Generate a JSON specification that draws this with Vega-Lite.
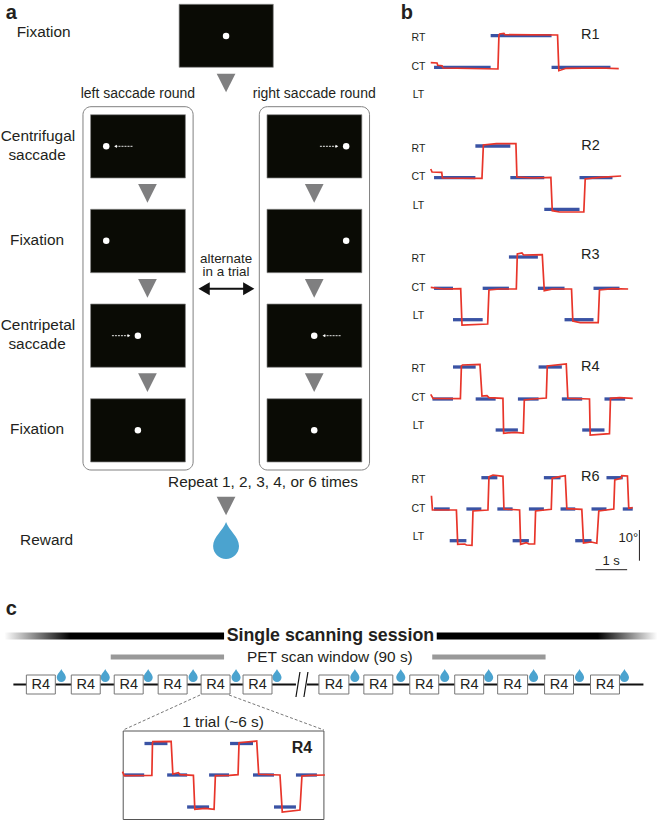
{"$schema":"https://vega.github.io/schema/vega-lite/v6.json","width":658,"height":820,"padding":0,"autosize":{"type":"fit","contains":"padding"},"background":"white","config":{"view":{"stroke":null},"text":{"font":"Liberation Sans","color":"#231f20","baseline":"middle","align":"center"}},
"encoding":{"x":{"field":"x","type":"quantitative","scale":{"domain":[0.6,658.6],"nice":false,"zero":false},"axis":null},"y":{"field":"y","type":"quantitative","scale":{"domain":[820,0],"nice":false,"zero":false},"axis":null}},
"layer":[
{"data":{"values":[{"x":82.7,"x2":193,"y":106.7,"y2":470},{"x":259.3,"x2":369.7,"y":106.7,"y2":470}]},"mark":{"type":"rect","fill":"white","stroke":"#808080","strokeWidth":1,"cornerRadius":8},"encoding":{"x2":{"field":"x2"},"y2":{"field":"y2"}}},
{"data":{"values":[{"x":179,"x2":273.3,"y":4.3,"y2":67.3},{"x":90.3,"x2":185.3,"y":114.7,"y2":178},{"x":90.3,"x2":185.3,"y":209.3,"y2":272.7},{"x":90.3,"x2":185.3,"y":304,"y2":367.3},{"x":90.3,"x2":185.3,"y":398.7,"y2":462},{"x":267,"x2":362,"y":114.7,"y2":178},{"x":267,"x2":362,"y":209.3,"y2":272.7},{"x":267,"x2":362,"y":304,"y2":367.3},{"x":267,"x2":362,"y":398.7,"y2":462}]},"mark":{"type":"rect","fill":"#0a0b05","stroke":"#8a8a8a","strokeWidth":0.7},"encoding":{"x2":{"field":"x2"},"y2":{"field":"y2"}}},
{"data":{"values":[{"x":226,"y":36},{"x":106,"y":146.3},{"x":106,"y":240.7},{"x":137.7,"y":335.7},{"x":137.7,"y":430.3},{"x":346.3,"y":146.3},{"x":346.3,"y":240.7},{"x":314.3,"y":335.7},{"x":314.3,"y":430.3}]},"mark":{"type":"point","shape":"circle","filled":true,"fill":"white","opacity":1,"strokeWidth":0,"size":42}},
{"data":{"values":[{"x":132.3,"x2":116,"y":146.3},{"x":320,"x2":336.3,"y":146.3},{"x":111.7,"x2":128,"y":335.7},{"x":340.7,"x2":324.7,"y":335.7}]},"mark":{"type":"rule","stroke":"white","strokeWidth":0.9,"strokeDash":[2,1]},"encoding":{"x2":{"field":"x2"}}},
{"data":{"values":[{"x":115.3,"y":146.3},{"x":324,"y":335.7}]},"mark":{"type":"point","shape":"triangle-left","filled":true,"fill":"white","opacity":1,"strokeWidth":0,"size":10}},
{"data":{"values":[{"x":337,"y":146.3},{"x":128.7,"y":335.7}]},"mark":{"type":"point","shape":"triangle-right","filled":true,"fill":"white","opacity":1,"strokeWidth":0,"size":10}},
{"data":{"values":[{"x":226,"y":83},{"x":147.3,"y":193.3},{"x":147.3,"y":288.3},{"x":147.3,"y":382.7},{"x":314.3,"y":193.3},{"x":314.3,"y":288.3},{"x":314.3,"y":382.7},{"x":226,"y":506}]},"mark":{"type":"point","shape":"M-1,-1 L1,-1 L0,1 Z","filled":true,"fill":"#7f7f80","opacity":1,"strokeWidth":0,"size":350}},
{"data":{"values":[{"x":204,"x2":249,"y":288.7}]},"mark":{"type":"rule","stroke":"#111111","strokeWidth":2},"encoding":{"x2":{"field":"x2"}}},
{"data":{"values":[{"x":204,"y":288.7}]},"mark":{"type":"point","shape":"triangle-left","filled":true,"fill":"#111111","opacity":1,"strokeWidth":0,"size":169}},
{"data":{"values":[{"x":248.7,"y":288.7}]},"mark":{"type":"point","shape":"triangle-right","filled":true,"fill":"#111111","opacity":1,"strokeWidth":0,"size":169}},
{"data":{"values":[{"x":226,"y":540.5}]},"mark":{"type":"point","shape":"M0,-1 C0.15,-0.55 0.7,-0.2 0.7,0.3 C0.7,0.7 0.38,1 0,1 C-0.38,1 -0.7,0.7 -0.7,0.3 C-0.7,-0.2 -0.15,-0.55 0,-1 Z","filled":true,"fill":"#4ba3cf","opacity":1,"strokeWidth":0,"size":1369}},
{"data":{"values":[{"x":61,"y":675.5},{"x":105,"y":675.5},{"x":148,"y":675.5},{"x":193,"y":675.5},{"x":236,"y":675.5},{"x":277,"y":675.5},{"x":355,"y":675.5},{"x":401,"y":675.5},{"x":445,"y":675.5},{"x":489,"y":675.5},{"x":534,"y":675.5},{"x":580,"y":675.5},{"x":625,"y":675.5}]},"mark":{"type":"point","shape":"M0,-1 C0.15,-0.55 0.7,-0.2 0.7,0.3 C0.7,0.7 0.38,1 0,1 C-0.38,1 -0.7,0.7 -0.7,0.3 C-0.7,-0.2 -0.15,-0.55 0,-1 Z","filled":true,"fill":"#4ba3cf","opacity":1,"strokeWidth":0,"size":169}},
{"data":{"values":[{"x":4,"x2":224,"y":632.5,"y2":639.5}]},"mark":{"type":"rect","fill":{"gradient":"linear","x1":0,"y1":0,"x2":1,"y2":0,"stops":[{"offset":0,"color":"#ffffff"},{"offset":0.3,"color":"#000000"},{"offset":1,"color":"#000000"}]}},"encoding":{"x2":{"field":"x2"},"y2":{"field":"y2"}}},
{"data":{"values":[{"x":437,"x2":658,"y":632.5,"y2":639.5}]},"mark":{"type":"rect","fill":{"gradient":"linear","x1":0,"y1":0,"x2":1,"y2":0,"stops":[{"offset":0,"color":"#000000"},{"offset":0.73,"color":"#000000"},{"offset":1,"color":"#ffffff"}]}},"encoding":{"x2":{"field":"x2"},"y2":{"field":"y2"}}},
{"data":{"values":[{"x":110.5,"x2":224,"y":657},{"x":432.5,"x2":546,"y":657}]},"mark":{"type":"rule","stroke":"#999999","strokeWidth":5},"encoding":{"x2":{"field":"x2"}}},
{"data":{"values":[{"x":13,"x2":296,"y":684.5},{"x":307,"x2":644,"y":684.5}]},"mark":{"type":"rule","stroke":"#111111","strokeWidth":2.2},"encoding":{"x2":{"field":"x2"}}},
{"data":{"values":[{"x":296,"x2":300,"y":697,"y2":672},{"x":304,"x2":308,"y":697,"y2":672}]},"mark":{"type":"rule","stroke":"#111111","strokeWidth":1.2},"encoding":{"x2":{"field":"x2"},"y2":{"field":"y2"}}},
{"data":{"values":[{"x":26,"x2":55,"y":675,"y2":694},{"x":71,"x2":100,"y":675,"y2":694},{"x":114,"x2":143,"y":675,"y2":694},{"x":158,"x2":187,"y":675,"y2":694},{"x":201,"x2":230,"y":675,"y2":694},{"x":243,"x2":272,"y":675,"y2":694},{"x":319,"x2":349,"y":675,"y2":694},{"x":364,"x2":393,"y":675,"y2":694},{"x":410,"x2":439,"y":675,"y2":694},{"x":455,"x2":484,"y":675,"y2":694},{"x":498,"x2":528,"y":675,"y2":694},{"x":545,"x2":574,"y":675,"y2":694},{"x":591,"x2":620,"y":675,"y2":694}]},"mark":{"type":"rect","fill":"white","stroke":"#777777","strokeWidth":1},"encoding":{"x2":{"field":"x2"},"y2":{"field":"y2"}}},
{"data":{"values":[{"x":200,"x2":123,"y":695,"y2":730},{"x":229,"x2":324,"y":695,"y2":730}]},"mark":{"type":"rule","stroke":"#555555","strokeWidth":0.8,"strokeDash":[3,2]},"encoding":{"x2":{"field":"x2"},"y2":{"field":"y2"}}},
{"data":{"values":[{"x":123,"x2":324,"y":731,"y2":819.5}]},"mark":{"type":"rect","fill":"white","stroke":"#555555","strokeWidth":1},"encoding":{"x2":{"field":"x2"},"y2":{"field":"y2"}}},
{"data":{"values":[
{"trace":"R1","target":"CT","x":434.3,"x2":491,"y":67.3},{"trace":"R1","target":"RT","x":491,"x2":552,"y":35.7},{"trace":"R1","target":"CT","x":552,"x2":611,"y":67.3},
{"trace":"R2","target":"CT","x":434.3,"x2":475.7,"y":177.7},{"trace":"R2","target":"RT","x":475.7,"x2":510.7,"y":146},{"trace":"R2","target":"CT","x":510.7,"x2":544.7,"y":177.7},{"trace":"R2","target":"LT","x":544.7,"x2":580,"y":209.3},{"trace":"R2","target":"CT","x":580,"x2":613,"y":177.7},
{"trace":"R3","target":"CT","x":434.3,"x2":453.3,"y":288.3},{"trace":"R3","target":"LT","x":453.3,"x2":483,"y":319.7},{"trace":"R3","target":"CT","x":483,"x2":509.3,"y":288.3},{"trace":"R3","target":"RT","x":509.3,"x2":538.3,"y":257},{"trace":"R3","target":"CT","x":538.3,"x2":565,"y":288.3},{"trace":"R3","target":"LT","x":565,"x2":594,"y":319.7},{"trace":"R3","target":"CT","x":594,"x2":620,"y":288.3},
{"trace":"R4","target":"CT","x":432.7,"x2":453.3,"y":399},{"trace":"R4","target":"RT","x":453.3,"x2":476,"y":367},{"trace":"R4","target":"CT","x":476,"x2":496,"y":399},{"trace":"R4","target":"LT","x":496,"x2":518.3,"y":430},{"trace":"R4","target":"CT","x":518.3,"x2":539,"y":399},{"trace":"R4","target":"RT","x":539,"x2":562.3,"y":367},{"trace":"R4","target":"CT","x":562.3,"x2":582.7,"y":399},{"trace":"R4","target":"LT","x":582.7,"x2":605,"y":430},{"trace":"R4","target":"CT","x":605,"x2":625.7,"y":399},
{"trace":"R6","target":"CT","x":434.3,"x2":450,"y":509},{"trace":"R6","target":"LT","x":450,"x2":466.7,"y":540.7},{"trace":"R6","target":"CT","x":466.7,"x2":481.7,"y":509},{"trace":"R6","target":"RT","x":481.7,"x2":497.7,"y":477.7},{"trace":"R6","target":"CT","x":497.7,"x2":513,"y":509},{"trace":"R6","target":"LT","x":513,"x2":529.3,"y":540.7},{"trace":"R6","target":"CT","x":529.3,"x2":544.3,"y":509},{"trace":"R6","target":"RT","x":544.3,"x2":561,"y":477.7},{"trace":"R6","target":"CT","x":561,"x2":575.7,"y":509},{"trace":"R6","target":"LT","x":575.7,"x2":592,"y":540.7},{"trace":"R6","target":"CT","x":592,"x2":607,"y":509},{"trace":"R6","target":"RT","x":607,"x2":623.3,"y":477.7},{"trace":"R6","target":"CT","x":623.3,"x2":633.3,"y":509},
{"trace":"inset","target":"CT","x":124,"x2":144,"y":775},{"trace":"inset","target":"RT","x":144.3,"x2":167.3,"y":743.5},{"trace":"inset","target":"CT","x":167,"x2":187,"y":775},{"trace":"inset","target":"LT","x":187,"x2":209,"y":807},{"trace":"inset","target":"CT","x":209,"x2":229,"y":775},{"trace":"inset","target":"RT","x":230,"x2":253,"y":743.5},{"trace":"inset","target":"CT","x":253,"x2":274,"y":775},{"trace":"inset","target":"LT","x":274,"x2":296,"y":807},{"trace":"inset","target":"CT","x":296,"x2":317,"y":775}
]},"mark":{"type":"rule","stroke":"#3a53a4","strokeWidth":3.3},"encoding":{"x2":{"field":"x2"}}},
{"data":{"values":[
{"trace":"R1","x":431,"y":62.7},{"trace":"R1","x":437.3,"y":63},{"trace":"R1","x":438,"y":65.3},{"trace":"R1","x":442.3,"y":65.7},{"trace":"R1","x":443.3,"y":68},{"trace":"R1","x":498.3,"y":69},{"trace":"R1","x":499.3,"y":35},{"trace":"R1","x":500,"y":34},{"trace":"R1","x":504.3,"y":33.3},{"trace":"R1","x":505.3,"y":34.7},{"trace":"R1","x":558,"y":35},{"trace":"R1","x":559.3,"y":70.7},{"trace":"R1","x":566.7,"y":68.3},{"trace":"R1","x":600,"y":68},{"trace":"R1","x":619.3,"y":68.7},
{"trace":"R2","x":431,"y":169},{"trace":"R2","x":432.3,"y":172},{"trace":"R2","x":442,"y":172.3},{"trace":"R2","x":442.7,"y":178},{"trace":"R2","x":482.3,"y":178.3},{"trace":"R2","x":483.7,"y":145},{"trace":"R2","x":496.7,"y":143.7},{"trace":"R2","x":516.3,"y":143.7},{"trace":"R2","x":517.3,"y":177},{"trace":"R2","x":533.3,"y":178},{"trace":"R2","x":551.3,"y":177.3},{"trace":"R2","x":552.7,"y":210.7},{"trace":"R2","x":560,"y":212},{"trace":"R2","x":584.3,"y":212},{"trace":"R2","x":585.7,"y":179},{"trace":"R2","x":600,"y":177.3},{"trace":"R2","x":621.7,"y":176},
{"trace":"R3","x":431,"y":287.3},{"trace":"R3","x":443.3,"y":289},{"trace":"R3","x":461,"y":288.7},{"trace":"R3","x":462.3,"y":325},{"trace":"R3","x":488,"y":324},{"trace":"R3","x":489.3,"y":290},{"trace":"R3","x":500,"y":289},{"trace":"R3","x":516.7,"y":289},{"trace":"R3","x":517.7,"y":254},{"trace":"R3","x":522.3,"y":253},{"trace":"R3","x":524,"y":255},{"trace":"R3","x":542.7,"y":254.7},{"trace":"R3","x":544.7,"y":290.7},{"trace":"R3","x":553.3,"y":289},{"trace":"R3","x":572,"y":289},{"trace":"R3","x":573.3,"y":321},{"trace":"R3","x":580.7,"y":322.7},{"trace":"R3","x":598.7,"y":322.7},{"trace":"R3","x":600,"y":290},{"trace":"R3","x":613.3,"y":288.7},{"trace":"R3","x":628.7,"y":289},
{"trace":"R4","x":431,"y":394.3},{"trace":"R4","x":433.3,"y":398.3},{"trace":"R4","x":460.7,"y":398.7},{"trace":"R4","x":461.7,"y":366},{"trace":"R4","x":462.7,"y":365},{"trace":"R4","x":480.3,"y":364.3},{"trace":"R4","x":482.3,"y":396},{"trace":"R4","x":487.3,"y":395.7},{"trace":"R4","x":489.3,"y":397.7},{"trace":"R4","x":503.3,"y":398.3},{"trace":"R4","x":504,"y":433.3},{"trace":"R4","x":515,"y":432.3},{"trace":"R4","x":523.7,"y":433},{"trace":"R4","x":524.7,"y":400},{"trace":"R4","x":533.3,"y":399},{"trace":"R4","x":546.7,"y":398},{"trace":"R4","x":547.7,"y":366},{"trace":"R4","x":566.7,"y":364},{"trace":"R4","x":568.3,"y":398.3},{"trace":"R4","x":590,"y":399},{"trace":"R4","x":590.7,"y":435},{"trace":"R4","x":610,"y":433.7},{"trace":"R4","x":611,"y":398.3},{"trace":"R4","x":620,"y":397.7},{"trace":"R4","x":633.3,"y":398.3},
{"trace":"R6","x":431.7,"y":495.7},{"trace":"R6","x":432.7,"y":510},{"trace":"R6","x":456.7,"y":510},{"trace":"R6","x":458,"y":544.3},{"trace":"R6","x":465,"y":544},{"trace":"R6","x":466.7,"y":545},{"trace":"R6","x":472.3,"y":545.3},{"trace":"R6","x":473.3,"y":511},{"trace":"R6","x":488.3,"y":510},{"trace":"R6","x":489.3,"y":476.7},{"trace":"R6","x":493.3,"y":475},{"trace":"R6","x":503.3,"y":476.3},{"trace":"R6","x":504.3,"y":509},{"trace":"R6","x":520,"y":510},{"trace":"R6","x":521,"y":544.3},{"trace":"R6","x":526.7,"y":542.7},{"trace":"R6","x":529.3,"y":544},{"trace":"R6","x":535,"y":544},{"trace":"R6","x":536,"y":511},{"trace":"R6","x":551.7,"y":509.3},{"trace":"R6","x":552.7,"y":478.3},{"trace":"R6","x":560,"y":476.7},{"trace":"R6","x":565.7,"y":475.7},{"trace":"R6","x":567.3,"y":508.7},{"trace":"R6","x":582.3,"y":509.3},{"trace":"R6","x":584,"y":543},{"trace":"R6","x":591.7,"y":542},{"trace":"R6","x":597.3,"y":543.3},{"trace":"R6","x":599.3,"y":511},{"trace":"R6","x":614.3,"y":509},{"trace":"R6","x":615.3,"y":480},{"trace":"R6","x":621.7,"y":478.3},{"trace":"R6","x":622.3,"y":475.7},{"trace":"R6","x":628,"y":476},{"trace":"R6","x":629.3,"y":508.3},{"trace":"R6","x":633.3,"y":507.7},
{"trace":"inset","x":122.3,"y":771.7},{"trace":"inset","x":124,"y":775.7},{"trace":"inset","x":151.7,"y":775.3},{"trace":"inset","x":152.3,"y":743.3},{"trace":"inset","x":152.7,"y":741.7},{"trace":"inset","x":171,"y":741.3},{"trace":"inset","x":172.7,"y":774},{"trace":"inset","x":178.3,"y":772.7},{"trace":"inset","x":180,"y":774.7},{"trace":"inset","x":193.3,"y":775.3},{"trace":"inset","x":194.7,"y":809.3},{"trace":"inset","x":205,"y":808.3},{"trace":"inset","x":214,"y":809.3},{"trace":"inset","x":215.3,"y":775.7},{"trace":"inset","x":229.3,"y":775.3},{"trace":"inset","x":238,"y":774.7},{"trace":"inset","x":239,"y":742.7},{"trace":"inset","x":256.7,"y":741},{"trace":"inset","x":258.7,"y":774.3},{"trace":"inset","x":280,"y":775},{"trace":"inset","x":282.3,"y":812},{"trace":"inset","x":300,"y":810},{"trace":"inset","x":302,"y":776},{"trace":"inset","x":310,"y":775.3},{"trace":"inset","x":325,"y":775}
]},"mark":{"type":"line","stroke":"#e8352a","strokeWidth":1.7,"interpolate":"linear"},"encoding":{"detail":{"field":"trace"}}},
{"data":{"values":[{"x":640,"x2":640,"y":530,"y2":560.7},{"x":596,"x2":627.7,"y":569.7,"y2":569.7}]},"mark":{"type":"rule","stroke":"#231f20","strokeWidth":1},"encoding":{"x2":{"field":"x2"},"y2":{"field":"y2"}}},
{"data":{"values":[{"label":"Fixation","x":43.3,"y":31.7},{"label":"Centrifugal","x":37.6,"y":136},{"label":"saccade","x":36.7,"y":155},{"label":"Fixation","x":36.7,"y":240},{"label":"Centripetal","x":37.6,"y":325.3},{"label":"saccade","x":36.7,"y":344.3},{"label":"Fixation","x":36.7,"y":429},{"label":"Repeat 1, 2, 3, 4, or 6 times","x":263,"y":482.3},{"label":"Reward","x":46.3,"y":539.7},{"label":"PET scan window (90 s)","x":330,"y":657},{"label":"1 trial (~6 s)","x":223,"y":722}]},"mark":{"type":"text","fontSize":15.4},"encoding":{"text":{"field":"label"}}},
{"data":{"values":[{"label":"left saccade round","x":137.7,"y":94},{"label":"right saccade round","x":314.3,"y":94}]},"mark":{"type":"text","fontSize":14},"encoding":{"text":{"field":"label"}}},
{"data":{"values":[{"label":"alternate","x":226,"y":258.5},{"label":"in a trial","x":226,"y":272}]},"mark":{"type":"text","fontSize":13.4},"encoding":{"text":{"field":"label"}}},
{"data":{"values":[{"label":"10°","x":629,"y":537.7},{"label":"1 s","x":611.7,"y":561}]},"mark":{"type":"text","fontSize":13},"encoding":{"text":{"field":"label"}}},
{"data":{"values":[{"label":"R4","x":40.5,"y":685},{"label":"R4","x":85.5,"y":685},{"label":"R4","x":128.5,"y":685},{"label":"R4","x":172.5,"y":685},{"label":"R4","x":215.5,"y":685},{"label":"R4","x":257.5,"y":685},{"label":"R4","x":334,"y":685},{"label":"R4","x":378.5,"y":685},{"label":"R4","x":424.5,"y":685},{"label":"R4","x":469.5,"y":685},{"label":"R4","x":513,"y":685},{"label":"R4","x":559.5,"y":685},{"label":"R4","x":605.5,"y":685}]},"mark":{"type":"text","fontSize":14.5},"encoding":{"text":{"field":"label"}}},
{"data":{"values":[{"label":"R1","x":590.7,"y":34.7},{"label":"R2","x":591,"y":145.5},{"label":"R3","x":590.7,"y":255.3},{"label":"R4","x":590.7,"y":366.7},{"label":"R6","x":590.7,"y":476.7}]},"mark":{"type":"text","fontSize":14.5},"encoding":{"text":{"field":"label"}}},
{"data":{"values":[{"label":"RT","x":418.7,"y":38},{"label":"CT","x":418.7,"y":66.7},{"label":"LT","x":418.7,"y":95},{"label":"RT","x":418.7,"y":148.7},{"label":"CT","x":418.7,"y":177},{"label":"LT","x":418.7,"y":205.7},{"label":"RT","x":418.7,"y":259},{"label":"CT","x":418.7,"y":287.7},{"label":"LT","x":418.7,"y":316},{"label":"RT","x":418.7,"y":369.3},{"label":"CT","x":418.7,"y":398.3},{"label":"LT","x":418.7,"y":425.7},{"label":"RT","x":418.7,"y":480},{"label":"CT","x":418.7,"y":508.7},{"label":"LT","x":418.7,"y":536.7}]},"mark":{"type":"text","fontSize":10.5},"encoding":{"text":{"field":"label"}}},
{"data":{"values":[{"label":"a","x":11,"y":12.5},{"label":"b","x":407,"y":12.5},{"label":"c","x":11,"y":609}]},"mark":{"type":"text","fontSize":20,"fontWeight":"bold"},"encoding":{"text":{"field":"label"}}},
{"data":{"values":[{"label":"Single scanning session","x":330.5,"y":636}]},"mark":{"type":"text","fontSize":17.8,"fontWeight":"bold"},"encoding":{"text":{"field":"label"}}},
{"data":{"values":[{"label":"R4","x":302,"y":748}]},"mark":{"type":"text","fontSize":16,"fontWeight":"bold"},"encoding":{"text":{"field":"label"}}}
]}
